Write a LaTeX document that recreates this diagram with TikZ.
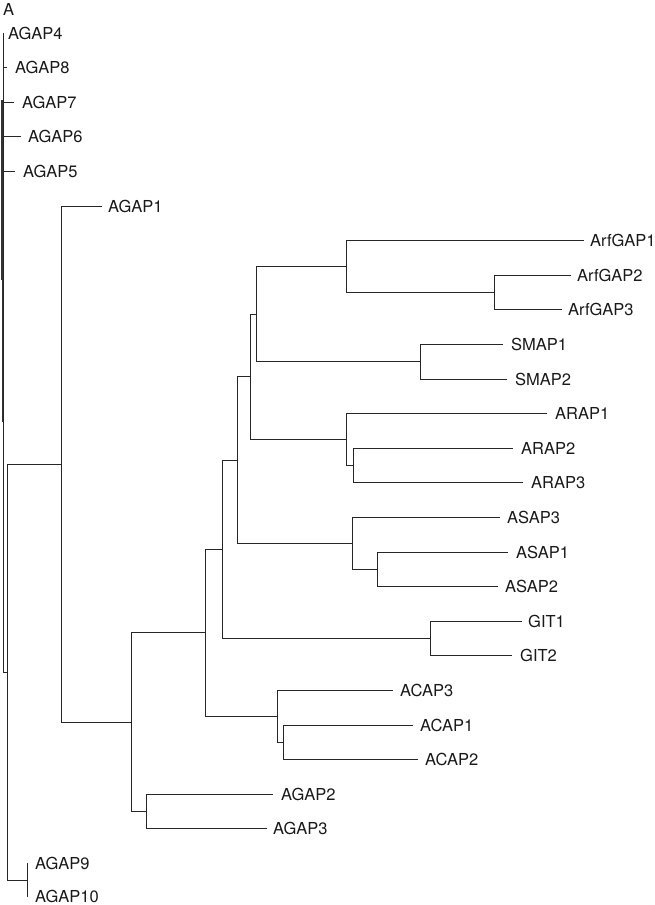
\documentclass[tikz,border=0pt]{standalone}
\usepackage{fontspec}
\setmainfont{TeX Gyre Heros}
\begin{document}
\begin{tikzpicture}[x=1pt,y=-1pt,
  br/.style={draw=black!85,line width=0.8pt},
  lab/.style={anchor=west,inner sep=0pt,font=\fontsize{16.5}{18}\selectfont,text=black!90}]
\useasboundingbox (0,0) rectangle (655,905);
% leaf ends
\coordinate (lAGAP4) at (3,33);
\coordinate (lAGAP8) at (7,67.6);
\coordinate (lAGAP7) at (14,102.2);
\coordinate (lAGAP6) at (21,136.8);
\coordinate (lAGAP5) at (15,171.4);
\coordinate (lAGAP1) at (102,206);
\coordinate (lArfGAP1) at (584,240.6);
\coordinate (lArfGAP2) at (571,275.2);
\coordinate (lArfGAP3) at (562,309.8);
\coordinate (lSMAP1) at (503,344.4);
\coordinate (lSMAP2) at (507,379);
\coordinate (lARAP1) at (547,413.6);
\coordinate (lARAP2) at (513,448.2);
\coordinate (lARAP3) at (523,482.8);
\coordinate (lASAP3) at (500,517.4);
\coordinate (lASAP1) at (508,552);
\coordinate (lASAP2) at (498,586.6);
\coordinate (lGIT1) at (522,621.2);
\coordinate (lGIT2) at (512,655.8);
\coordinate (lACAP3) at (393,690.4);
\coordinate (lACAP1) at (413,725);
\coordinate (lACAP2) at (418,759.6);
\coordinate (lAGAP2) at (273,794.2);
\coordinate (lAGAP3) at (267,828.8);
\coordinate (lAGAP9) at (27,863.4);
\coordinate (lAGAP10) at (27,896.5);
% internal nodes
\coordinate (nArf23) at (494,292.5);
\coordinate (nArf) at (346,266.5);
\coordinate (nSmap) at (420,361.7);
\coordinate (nArfSmap) at (256,314.1);
\coordinate (nArap23) at (353,465.5);
\coordinate (nArap) at (346,439.5);
\coordinate (nAsa) at (250,376.8);
\coordinate (nAsap12) at (377,569.3);
\coordinate (nAsap) at (352,543.4);
\coordinate (nB) at (237,460.1);
\coordinate (nGit) at (430,638.5);
\coordinate (nC) at (222,549.3);
\coordinate (nAcap12) at (283,742.3);
\coordinate (nAcap) at (277,716.4);
\coordinate (nD) at (205,632.8);
\coordinate (nAgap23) at (146,811.5);
\coordinate (nE) at (131,722.2);
\coordinate (nF) at (61,464.1);
\coordinate (nAgap910) at (27,880.7);
\coordinate (nRoot) at (7,672.4);
\coordinate (nCl) at (3,672.4);
% branches
\draw[br] (nArf23) |- (lArfGAP2); \draw[br] (nArf23) |- (lArfGAP3);
\draw[br] (nArf) |- (lArfGAP1); \draw[br] (nArf) |- (nArf23);
\draw[br] (nSmap) |- (lSMAP1); \draw[br] (nSmap) |- (lSMAP2);
\draw[br] (nArfSmap) |- (nArf); \draw[br] (nArfSmap) |- (nSmap);
\draw[br] (nArap23) |- (lARAP2); \draw[br] (nArap23) |- (lARAP3);
\draw[br] (nArap) |- (lARAP1); \draw[br] (nArap) |- (nArap23);
\draw[br] (nAsa) |- (nArfSmap); \draw[br] (nAsa) |- (nArap);
\draw[br] (nAsap12) |- (lASAP1); \draw[br] (nAsap12) |- (lASAP2);
\draw[br] (nAsap) |- (lASAP3); \draw[br] (nAsap) |- (nAsap12);
\draw[br] (nB) |- (nAsa); \draw[br] (nB) |- (nAsap);
\draw[br] (nGit) |- (lGIT1); \draw[br] (nGit) |- (lGIT2);
\draw[br] (nC) |- (nB); \draw[br] (nC) |- (nGit);
\draw[br] (nAcap12) |- (lACAP1); \draw[br] (nAcap12) |- (lACAP2);
\draw[br] (nAcap) |- (lACAP3); \draw[br] (nAcap) |- (nAcap12);
\draw[br] (nD) |- (nC); \draw[br] (nD) |- (nAcap);
\draw[br] (nAgap23) |- (lAGAP2); \draw[br] (nAgap23) |- (lAGAP3);
\draw[br] (nE) |- (nD); \draw[br] (nE) |- (nAgap23);
\draw[br] (nF) |- (lAGAP1); \draw[br] (nF) |- (nE);
\draw[br] (nAgap910) |- (lAGAP9); \draw[br] (nAgap910) |- (lAGAP10);
\draw[br] (nRoot) |- (nF); \draw[br] (nRoot) |- (nAgap910);
\draw[br] (nRoot) -- (nCl);
% collapsed AGAP4-8 cluster
\draw[br] (nCl) |- (lAGAP4);
\draw[br] (nCl) |- (lAGAP8); \draw[br] (nCl) |- (lAGAP7);
\draw[br] (nCl) |- (lAGAP6); \draw[br] (nCl) |- (lAGAP5);
\coordinate (thA) at (2,100); \coordinate (thB) at (2,280);
\draw[draw=black!80,line width=1.4pt] (thA) -- (thB);
\coordinate (thC) at (2.6,280); \coordinate (thD) at (2.6,422);
\draw[draw=black!80,line width=1.1pt] (thC) -- (thD);
% labels
\node[lab] at (0,0) [anchor=north west,xshift=3pt,yshift=-3pt] {A};
\foreach \n/\g in {AGAP4/5,AGAP8/8,AGAP7/8,AGAP6/7,AGAP5/8,AGAP1/6,
  ArfGAP1/6,ArfGAP2/6,ArfGAP3/6,SMAP1/8,SMAP2/8,ARAP1/8,ARAP2/8,ARAP3/8,
  ASAP3/7,ASAP1/8,ASAP2/7,GIT1/6,GIT2/8,ACAP3/7,ACAP1/7,ACAP2/7,
  AGAP2/8,AGAP3/6,AGAP9/8,AGAP10/8}
  \node[lab] (t\n) at ([xshift=\g pt]l\n) {\n};
\end{tikzpicture}
\end{document}
